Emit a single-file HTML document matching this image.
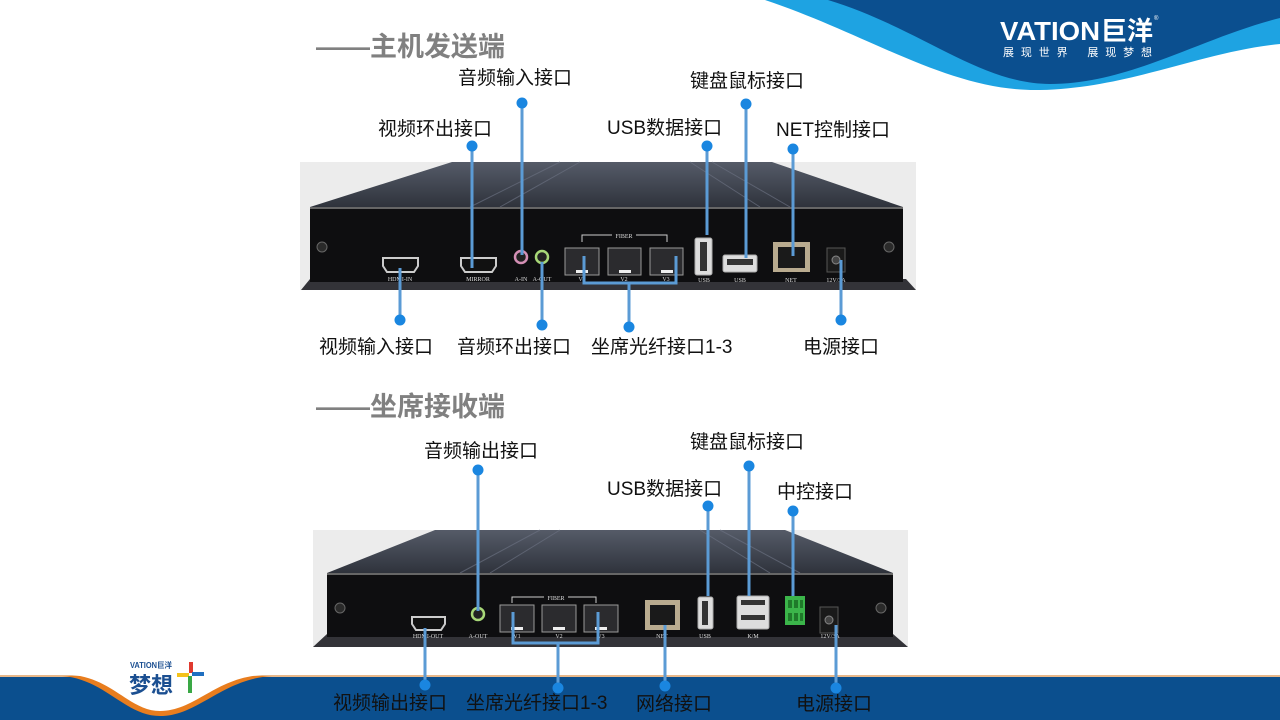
<!DOCTYPE html>
<html><head><meta charset="utf-8"><style>
html,body{margin:0;padding:0;background:#fff;}
svg{display:block;}
.lbl{font-family:"Liberation Sans","Noto Sans CJK SC",sans-serif;font-size:19px;fill:#111;}
.ttl{font-family:"Liberation Sans","Noto Sans CJK SC",sans-serif;font-size:27px;font-weight:bold;fill:#808080;}
.sm{font-family:"Liberation Serif",serif;font-size:6px;fill:#ddd;text-anchor:middle;}
.ln{stroke:#5b9bd5;stroke-width:3;fill:none;}
.dt{fill:#1a86e0;}
</style></head><body>
<svg width="1280" height="720" viewBox="0 0 1280 720" xmlns="http://www.w3.org/2000/svg">
<defs>
<linearGradient id="tg" x1="0" y1="0" x2="0" y2="1"><stop offset="0" stop-color="#555b68"/><stop offset="1" stop-color="#2f333c"/></linearGradient>
</defs>
<!-- top-right wave -->
<path d="M765 0 C870 35 950 92 1040 90 C1130 88 1200 52 1280 44 L1280 0 Z" fill="#1ea3e2"/>
<path d="M828 0 C920 28 980 84 1050 84 C1130 84 1200 38 1280 18 L1280 0 Z" fill="#0b4f8f"/>
<text x="1000" y="40" font-family="Liberation Sans,sans-serif" font-weight="bold" font-size="26" fill="#fff" textLength="100" lengthAdjust="spacingAndGlyphs">VATION</text>
<text x="1101" y="40" font-family="Liberation Sans,'Noto Sans CJK SC',sans-serif" font-weight="bold" font-size="26" fill="#fff">巨洋</text>
<text x="1154" y="20" font-family="Liberation Sans,sans-serif" font-size="6" fill="#fff">®</text>
<text x="1003" y="56" font-family="Liberation Sans,'Noto Sans CJK SC',sans-serif" font-size="11" fill="#fff" textLength="149" lengthAdjust="spacing">展 现 世 界　 展 现 梦 想</text>

<!-- bottom band -->
<rect x="0" y="676" width="1280" height="44" fill="#0b4f8e"/>
<rect x="0" y="675" width="1280" height="2" fill="#e8b88a"/>
<path d="M62 676 C105 679 125 716 160 716 C198 716 222 679 272 676 Z" fill="#e87d1e"/>
<path d="M72 675 C112 678 130 711 160 711 C195 711 215 678 262 675 Z" fill="#fff"/>
<text x="130" y="668" font-family="Liberation Sans,'Noto Sans CJK SC',sans-serif" font-weight="bold" font-size="8" fill="#1b4f91" textLength="42" lengthAdjust="spacingAndGlyphs">VATION巨洋</text>
<text x="129" y="693" font-family="Liberation Sans,'Noto Sans CJK SC',sans-serif" font-weight="bold" font-size="22" fill="#1b4f91">梦想</text>
<rect x="189" y="662" width="4" height="11" fill="#e03a2f"/>
<rect x="177" y="673" width="12" height="4" fill="#f4c21b"/>
<rect x="192" y="672" width="12" height="4" fill="#1f6fc0"/>
<rect x="188" y="676" width="4" height="17" fill="#3aa845"/>

<!-- titles -->
<text class="ttl" x="316" y="56">——主机发送端</text>
<text class="ttl" x="316" y="416">——坐席接收端</text>

<!-- TOP DEVICE -->
<rect x="300" y="162" width="616" height="128" fill="#ececec"/>
<polygon points="452,162 772,162 903,207 310,207" fill="url(#tg)"/>
<g stroke="#6a7080" stroke-width="1" opacity="0.7">
<line x1="560" y1="162" x2="470" y2="207"/><line x1="580" y1="162" x2="500" y2="207"/>
<line x1="690" y1="162" x2="760" y2="207"/><line x1="712" y1="162" x2="790" y2="207"/>
</g>
<polygon points="301,290 310,279 906,279 916,290" fill="#333338"/>
<rect x="310" y="207" width="593" height="2" fill="#666"/>
<rect x="310" y="209" width="593" height="73" fill="#0e0e10"/>
<circle cx="322" cy="247" r="5" fill="#2a2a2a" stroke="#666"/>
<circle cx="889" cy="247" r="5" fill="#2a2a2a" stroke="#666"/>
<path d="M383 258 H418 V266 L414 272 H387 L383 266 Z" fill="#111" stroke="#ccc" stroke-width="2"/>
<text class="sm" x="400" y="281">HDMI-IN</text>
<path d="M461 258 H496 V266 L492 272 H465 L461 266 Z" fill="#111" stroke="#ccc" stroke-width="2"/>
<text class="sm" x="478" y="281">MIRROR</text>
<circle cx="521" cy="257" r="6" fill="#222" stroke="#d48fb5" stroke-width="2.5"/>
<text class="sm" x="521" y="281">A-IN</text>
<circle cx="542" cy="257" r="6" fill="#222" stroke="#a8d878" stroke-width="2.5"/>
<text class="sm" x="542" y="281">A-OUT</text>
<path d="M582 242 V235 H667 V242" stroke="#ccc" fill="none"/>
<rect x="612" y="232" width="24" height="7" fill="#0e0e10"/>
<text class="sm" x="624" y="238">FIBER</text>
<rect x="565" y="248" width="34" height="27" fill="#2b2b2e" stroke="#999"/>
<rect x="608" y="248" width="33" height="27" fill="#2b2b2e" stroke="#999"/>
<rect x="650" y="248" width="33" height="27" fill="#2b2b2e" stroke="#999"/>
<rect x="576" y="270" width="12" height="3" fill="#eee"/><rect x="619" y="270" width="12" height="3" fill="#eee"/><rect x="661" y="270" width="12" height="3" fill="#eee"/>
<text class="sm" x="582" y="281">V1</text><text class="sm" x="624" y="281">V2</text><text class="sm" x="666" y="281">V3</text>
<rect x="695" y="238" width="17" height="37" rx="2" fill="#ddd" stroke="#aaa"/>
<rect x="700" y="242" width="7" height="29" fill="#333"/>
<text class="sm" x="704" y="282">USB</text>
<rect x="723" y="255" width="34" height="17" rx="2" fill="#ddd" stroke="#aaa"/>
<rect x="727" y="259" width="26" height="6" fill="#333"/>
<text class="sm" x="740" y="282">USB</text>
<rect x="773" y="242" width="37" height="30" fill="#b9ab8f"/>
<rect x="778" y="247" width="27" height="21" fill="#1a1a1a"/>
<text class="sm" x="791" y="282">NET</text>
<rect x="827" y="248" width="18" height="24" fill="#1a1a1a" stroke="#555"/>
<circle cx="836" cy="260" r="4" fill="#444" stroke="#888"/>
<text class="sm" x="836" y="282">12V/3A</text>

<!-- top connectors -->
<polyline class="ln" points="472,146 472,268"/><circle class="dt" cx="472" cy="146" r="5.5"/>
<polyline class="ln" points="522,103 522,255"/><circle class="dt" cx="522" cy="103" r="5.5"/>
<polyline class="ln" points="707,146 707,235"/><circle class="dt" cx="707" cy="146" r="5.5"/>
<polyline class="ln" points="746,104 746,258"/><circle class="dt" cx="746" cy="104" r="5.5"/>
<polyline class="ln" points="793,149 793,256"/><circle class="dt" cx="793" cy="149" r="5.5"/>
<polyline class="ln" points="400,268 400,320"/><circle class="dt" cx="400" cy="320" r="5.5"/>
<polyline class="ln" points="542,262 542,325"/><circle class="dt" cx="542" cy="325" r="5.5"/>
<polyline class="ln" points="584,256 584,283 676,283 676,256"/>
<polyline class="ln" points="629,283 629,327"/><circle class="dt" cx="629" cy="327" r="5.5"/>
<polyline class="ln" points="841,260 841,320"/><circle class="dt" cx="841" cy="320" r="5.5"/>

<!-- top labels -->
<text class="lbl" x="458" y="84">音频输入接口</text>
<text class="lbl" x="378" y="135">视频环出接口</text>
<text class="lbl" x="607" y="134">USB数据接口</text>
<text class="lbl" x="690" y="87">键盘鼠标接口</text>
<text class="lbl" x="776" y="136">NET控制接口</text>
<text class="lbl" x="319" y="353">视频输入接口</text>
<text class="lbl" x="457" y="353">音频环出接口</text>
<text class="lbl" x="591" y="353">坐席光纤接口1-3</text>
<text class="lbl" x="803" y="353">电源接口</text>

<!-- BOTTOM DEVICE -->
<rect x="313" y="530" width="595" height="117" fill="#ececec"/>
<polygon points="435,530 785,530 893,573 327,573" fill="url(#tg)"/>
<g stroke="#6a7080" stroke-width="1" opacity="0.7">
<line x1="540" y1="530" x2="460" y2="573"/><line x1="560" y1="530" x2="490" y2="573"/>
<line x1="700" y1="530" x2="770" y2="573"/><line x1="720" y1="530" x2="800" y2="573"/>
</g>
<polygon points="313,647 327,634 893,634 908,647" fill="#333338"/>
<rect x="327" y="573" width="566" height="2" fill="#666"/>
<rect x="327" y="575" width="566" height="62" fill="#0e0e10"/>
<circle cx="340" cy="608" r="5" fill="#2a2a2a" stroke="#666"/>
<circle cx="881" cy="608" r="5" fill="#2a2a2a" stroke="#666"/>
<path d="M412 617 H445 V624 L441 630 H416 L412 624 Z" fill="#111" stroke="#ccc" stroke-width="2"/>
<text class="sm" x="428" y="638">HDMI-OUT</text>
<circle cx="478" cy="614" r="6" fill="#222" stroke="#a8d878" stroke-width="2.5"/>
<text class="sm" x="478" y="638">A-OUT</text>
<path d="M512 603 V597 H596 V603" stroke="#ccc" fill="none"/>
<rect x="544" y="594" width="24" height="7" fill="#0e0e10"/>
<text class="sm" x="556" y="600">FIBER</text>
<rect x="500" y="605" width="34" height="27" fill="#2b2b2e" stroke="#999"/>
<rect x="542" y="605" width="34" height="27" fill="#2b2b2e" stroke="#999"/>
<rect x="584" y="605" width="34" height="27" fill="#2b2b2e" stroke="#999"/>
<rect x="511" y="627" width="12" height="3" fill="#eee"/><rect x="553" y="627" width="12" height="3" fill="#eee"/><rect x="595" y="627" width="12" height="3" fill="#eee"/>
<text class="sm" x="517" y="638">V1</text><text class="sm" x="559" y="638">V2</text><text class="sm" x="601" y="638">V3</text>
<rect x="645" y="600" width="35" height="30" fill="#b9ab8f"/>
<rect x="650" y="605" width="25" height="20" fill="#1a1a1a"/>
<text class="sm" x="662" y="638">NET</text>
<rect x="698" y="597" width="15" height="32" rx="2" fill="#ddd" stroke="#aaa"/>
<rect x="702" y="601" width="6" height="24" fill="#333"/>
<text class="sm" x="705" y="638">USB</text>
<rect x="737" y="596" width="32" height="33" rx="2" fill="#ddd" stroke="#aaa"/>
<rect x="741" y="600" width="24" height="5" fill="#333"/><rect x="741" y="615" width="24" height="5" fill="#333"/>
<text class="sm" x="753" y="638">K/M</text>
<rect x="785" y="596" width="20" height="29" fill="#3bb54a"/>
<g fill="#1f7a2a"><rect x="788" y="600" width="4" height="8"/><rect x="794" y="600" width="4" height="8"/><rect x="800" y="600" width="3" height="8"/><rect x="788" y="613" width="4" height="8"/><rect x="794" y="613" width="4" height="8"/><rect x="800" y="613" width="3" height="8"/></g>
<rect x="820" y="607" width="18" height="26" fill="#1a1a1a" stroke="#555"/>
<circle cx="829" cy="620" r="4" fill="#444" stroke="#888"/>
<text class="sm" x="830" y="638">12V/3A</text>

<!-- bottom connectors -->
<polyline class="ln" points="478,470 478,611"/><circle class="dt" cx="478" cy="470" r="5.5"/>
<polyline class="ln" points="749,466 749,596"/><circle class="dt" cx="749" cy="466" r="5.5"/>
<polyline class="ln" points="708,506 708,596"/><circle class="dt" cx="708" cy="506" r="5.5"/>
<polyline class="ln" points="793,511 793,596"/><circle class="dt" cx="793" cy="511" r="5.5"/>
<polyline class="ln" points="425,628 425,685"/><circle class="dt" cx="425" cy="685" r="5.5"/>
<polyline class="ln" points="513,612 513,643 598,643 598,612"/>
<polyline class="ln" points="558,643 558,688"/><circle class="dt" cx="558" cy="688" r="5.5"/>
<polyline class="ln" points="665,625 665,686"/><circle class="dt" cx="665" cy="686" r="5.5"/>
<polyline class="ln" points="836,625 836,688"/><circle class="dt" cx="836" cy="688" r="5.5"/>

<!-- bottom labels -->
<text class="lbl" x="424" y="457">音频输出接口</text>
<text class="lbl" x="690" y="448">键盘鼠标接口</text>
<text class="lbl" x="607" y="495">USB数据接口</text>
<text class="lbl" x="777" y="498">中控接口</text>
<text class="lbl" x="333" y="709">视频输出接口</text>
<text class="lbl" x="466" y="709">坐席光纤接口1-3</text>
<text class="lbl" x="636" y="710">网络接口</text>
<text class="lbl" x="796" y="710">电源接口</text>
</svg>
</body></html>
